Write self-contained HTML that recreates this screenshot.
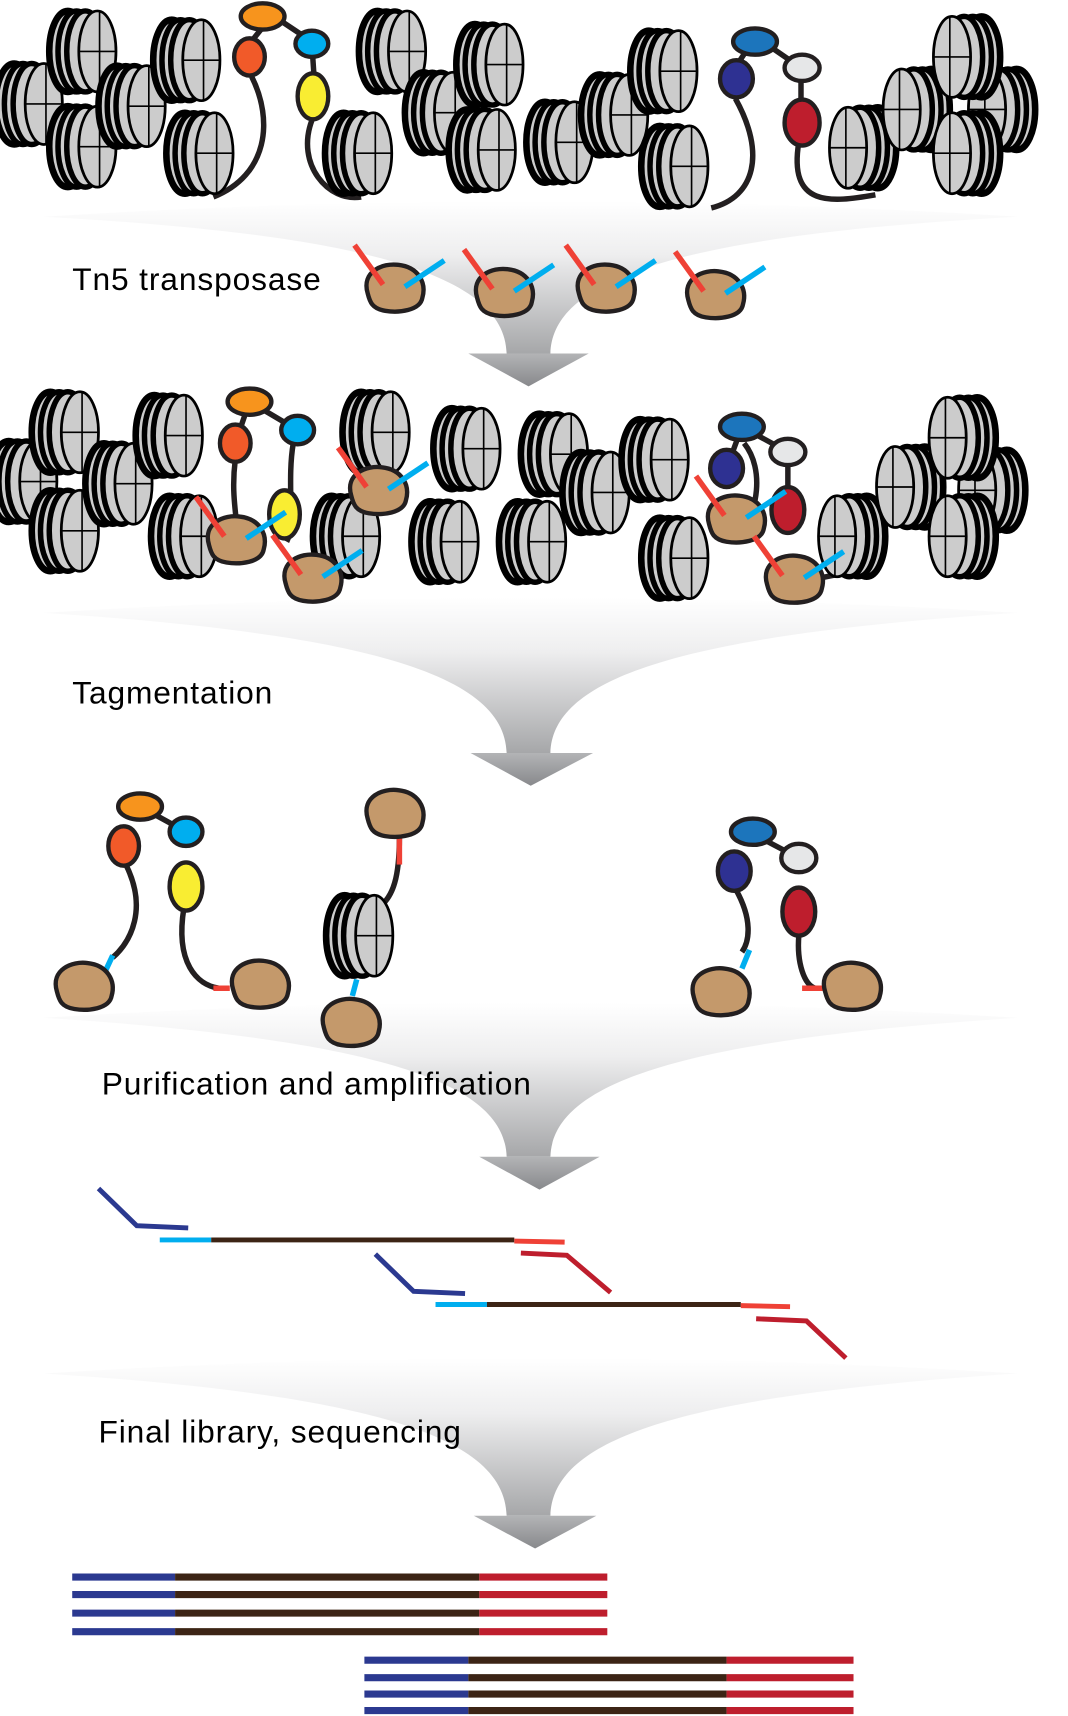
<!DOCTYPE html>
<html><head><meta charset="utf-8"><style>
html,body{margin:0;padding:0;background:#fff;}
svg{display:block;}
text{font-family:"Liberation Sans",sans-serif;font-size:29px;letter-spacing:0.8px;fill:#000;}
</style></head><body>
<svg width="1068" height="1716" viewBox="0 0 976 1568" preserveAspectRatio="none" xmlns="http://www.w3.org/2000/svg">
<defs>
<linearGradient id="fg" x1="0" y1="0" x2="0" y2="1">
<stop offset="0" stop-color="#fff"/><stop offset="0.35" stop-color="#eeeeef"/><stop offset="1" stop-color="#a6a7a9"/></linearGradient>
<linearGradient id="ag" x1="0" y1="0" x2="0" y2="1">
<stop offset="0" stop-color="#b3b4b6"/><stop offset="1" stop-color="#88898c"/></linearGradient>
<g id="nL">
<ellipse cx="-27" cy="0" rx="17" ry="37" fill="#ccc" stroke="#000" stroke-width="6"/>
<ellipse cx="-19" cy="0" rx="17" ry="37" fill="#ccc" stroke="#000" stroke-width="5"/>
<ellipse cx="-11" cy="0" rx="17" ry="37" fill="#ccc" stroke="#000" stroke-width="5"/>
<ellipse cx="0" cy="0" rx="17" ry="37" fill="#ccc" stroke="#000" stroke-width="2.5"/>
<line x1="-17" y1="0" x2="17" y2="0" stroke="#000" stroke-width="1.5"/>
<line x1="2" y1="-37" x2="2" y2="37" stroke="#000" stroke-width="1.5"/>
</g>
<g id="nR"><use href="#nL" transform="scale(-1,1)"/></g>
<g id="tn"><path d="M-24,6 C-30,-14 -10,-22 4,-20 C22,-18 30,-4 26,10 C24,22 4,24 -8,22 C-20,20 -22,14 -24,6 Z" fill="#c4996b" stroke="#231f20" stroke-width="4"/></g>
<g id="tnx"><use href="#tn"/><line x1="-36" y1="-38" x2="-10" y2="-2" stroke="#ef4136" stroke-width="5"/><line x1="10" y1="0" x2="46" y2="-24" stroke="#00aeef" stroke-width="5"/></g>
</defs>

<g>
<path d="M40,198 Q483,170 930,198 C620,215 505,255 503,323 L463,323 C461,255 350,215 40,198 Z" fill="url(#fg)"/>
<path d="M428,323 L538,323 L483,353 Z" fill="url(#ag)"/>
<path d="M40,560 Q483,532 930,560 C620,580 505,620 503,688 L463,688 C461,620 350,580 40,560 Z" fill="url(#fg)"/>
<path d="M430,688 L542,688 L485,718 Z" fill="url(#ag)"/>
<path d="M40,930 Q483,902 930,930 C620,950 505,990 503,1057 L463,1057 C461,990 350,950 40,930 Z" fill="url(#fg)"/>
<path d="M438,1057 L548,1057 L493,1087 Z" fill="url(#ag)"/>
<path d="M40,1255 Q483,1227 930,1255 C620,1275 505,1315 503,1385 L463,1385 C461,1315 350,1275 40,1255 Z" fill="url(#fg)"/>
<path d="M433,1385 L545,1385 L489,1415 Z" fill="url(#ag)"/>
</g>

<text x="66" y="265">Tn5 transposase</text>
<text x="66" y="643">Tagmentation</text>
<text x="93" y="1000">Purification and amplification</text>
<text x="90" y="1318">Final library, sequencing</text>

<g fill="none" stroke="#231f20" stroke-width="5">
<path d="M230,70 C250,110 245,160 195,180"/>
<path d="M285,110 C270,150 300,185 330,180"/>
<path d="M672,90 C700,140 690,180 650,190"/>
<path d="M730,130 C720,190 760,185 800,178"/>
<path d="M255,18 L285,38 M285,40 L287,70 M240,25 L228,40 M700,40 L732,62 M732,70 L732,100 M685,42 L673,60"/>
</g>
<use href="#nL" x="40" y="95"/>
<use href="#nL" x="89" y="47"/>
<use href="#nL" x="89" y="134"/>
<use href="#nL" x="134" y="97"/>
<use href="#nL" x="184" y="55"/>
<use href="#nL" x="196" y="140"/>
<use href="#nL" x="341" y="140"/>
<use href="#nL" x="372" y="47"/>
<use href="#nL" x="414" y="103"/>
<use href="#nL" x="461" y="59"/>
<use href="#nL" x="454" y="137"/>
<use href="#nL" x="525" y="130"/>
<use href="#nL" x="575" y="105"/>
<use href="#nL" x="620" y="65"/>
<use href="#nL" x="630" y="152"/>
<use href="#nR" x="775" y="135"/>
<use href="#nR" x="824" y="100"/>
<use href="#nR" x="902" y="100"/>
<use href="#nR" x="870" y="52"/>
<use href="#nR" x="870" y="140"/>
<g stroke="#231f20" stroke-width="4">
<ellipse cx="240" cy="15" rx="20" ry="12" fill="#f7941d"/>
<ellipse cx="228" cy="52" rx="14" ry="17" fill="#f15a29"/>
<ellipse cx="285" cy="40" rx="15" ry="12" fill="#00aeef"/>
<ellipse cx="286" cy="88" rx="14" ry="21" fill="#f9ed32"/>
<ellipse cx="690" cy="38" rx="20" ry="12" fill="#1c75bc"/>
<ellipse cx="673" cy="72" rx="15" ry="17" fill="#2e3192"/>
<ellipse cx="733" cy="62" rx="16" ry="12" fill="#e6e7e8"/>
<ellipse cx="733" cy="112" rx="16" ry="21" fill="#be1e2d"/>
</g>
<use href="#tnx" x="360" y="262"/>
<use href="#tnx" x="460" y="266"/>
<use href="#tnx" x="553" y="262"/>
<use href="#tnx" x="653" y="268"/>

<g fill="none" stroke="#231f20" stroke-width="5">
<path d="M215,420 C210,460 220,480 215,495 M268,405 C262,440 270,480 262,495 M680,405 C700,430 690,470 680,480"/>
<path d="M740,530 L790,520 M640,490 C640,520 625,540 605,545"/>
<path d="M228,367 L272,393 M228,367 L215,405 M678,390 L720,413 M678,390 L664,428 M720,413 L720,466"/>
</g>
<use href="#nL" x="35" y="440"/>
<use href="#nL" x="73" y="395"/>
<use href="#nL" x="73" y="485"/>
<use href="#nL" x="122" y="442"/>
<use href="#nL" x="168" y="398"/>
<use href="#nL" x="182" y="490"/>
<use href="#nL" x="330" y="490"/>
<use href="#nL" x="357" y="395"/>
<use href="#nL" x="420" y="495"/>
<use href="#nL" x="440" y="410"/>
<use href="#nL" x="500" y="495"/>
<use href="#nL" x="520" y="415"/>
<use href="#nL" x="558" y="450"/>
<use href="#nL" x="612" y="420"/>
<use href="#nL" x="630" y="510"/>
<use href="#nR" x="765" y="490"/>
<use href="#nR" x="818" y="445"/>
<use href="#nR" x="893" y="448"/>
<use href="#nR" x="866" y="400"/>
<use href="#nR" x="866" y="490"/>
<g stroke="#231f20" stroke-width="4">
<ellipse cx="228" cy="367" rx="20" ry="12" fill="#f7941d"/>
<ellipse cx="215" cy="405" rx="14" ry="17" fill="#f15a29"/>
<ellipse cx="272" cy="393" rx="15" ry="13" fill="#00aeef"/>
<ellipse cx="260" cy="470" rx="14" ry="22" fill="#f9ed32"/>
<ellipse cx="678" cy="390" rx="20" ry="12" fill="#1c75bc"/>
<ellipse cx="664" cy="428" rx="15" ry="17" fill="#2e3192"/>
<ellipse cx="720" cy="413" rx="16" ry="12" fill="#e6e7e8"/>
<ellipse cx="720" cy="466" rx="15" ry="21" fill="#be1e2d"/>
</g>
<use href="#tnx" x="215" y="492"/>
<use href="#tnx" x="285" y="527"/>
<use href="#tnx" x="345" y="447"/>
<use href="#tnx" x="672" y="473"/>
<use href="#tnx" x="725" y="528"/>

<g fill="none" stroke="#231f20" stroke-width="5">
<path d="M115,790 C135,830 120,860 103,875"/>
<path d="M168,830 C160,880 180,900 200,903"/>
<path d="M365,765 C365,800 360,820 345,830"/>
<path d="M672,812 C688,840 685,860 678,870"/>
<path d="M730,855 C728,880 735,900 745,903"/>
<path d="M128,737 L170,760 M688,762 L730,784"/>
</g>
<line x1="103" y1="873" x2="96" y2="888" stroke="#00aeef" stroke-width="5"/>
<line x1="195" y1="903" x2="210" y2="903" stroke="#ef4136" stroke-width="5"/>
<line x1="365" y1="765" x2="365" y2="790" stroke="#ef4136" stroke-width="5"/>
<line x1="326" y1="895" x2="322" y2="910" stroke="#00aeef" stroke-width="5"/>
<line x1="685" y1="868" x2="678" y2="885" stroke="#00aeef" stroke-width="5"/>
<line x1="733" y1="903" x2="752" y2="903" stroke="#ef4136" stroke-width="5"/>
<use href="#nL" x="342" y="855"/>
<g stroke="#231f20" stroke-width="4">
<ellipse cx="128" cy="737" rx="20" ry="12" fill="#f7941d"/>
<ellipse cx="113" cy="773" rx="14" ry="18" fill="#f15a29"/>
<ellipse cx="170" cy="760" rx="15" ry="13" fill="#00aeef"/>
<ellipse cx="170" cy="810" rx="15" ry="22" fill="#f9ed32"/>
<ellipse cx="688" cy="760" rx="20" ry="12" fill="#1c75bc"/>
<ellipse cx="671" cy="796" rx="15" ry="18" fill="#2e3192"/>
<ellipse cx="730" cy="784" rx="16" ry="13" fill="#e6e7e8"/>
<ellipse cx="730" cy="833" rx="15" ry="22" fill="#be1e2d"/>
</g>
<use href="#tn" x="76" y="900"/>
<use href="#tn" x="237" y="898"/>
<use href="#tn" x="360" y="742"/>
<use href="#tn" x="320" y="933"/>
<use href="#tn" x="658" y="905"/>
<use href="#tn" x="778" y="900"/>

<g fill="none" stroke-width="4.5">
<polyline points="90,1086 125,1120 172,1122" stroke="#2b3990"/>
<line x1="146" y1="1133" x2="193" y2="1133" stroke="#00aeef"/>
<line x1="193" y1="1133" x2="470" y2="1133" stroke="#3c2415"/>
<line x1="470" y1="1134" x2="516" y2="1135" stroke="#ef4136"/>
<polyline points="476,1145 518,1147 558,1181" stroke="#be1e2d"/>
<polyline points="343,1146 378,1180 425,1182" stroke="#2b3990"/>
<line x1="398" y1="1192" x2="445" y2="1192" stroke="#00aeef"/>
<line x1="445" y1="1192" x2="677" y2="1192" stroke="#3c2415"/>
<line x1="677" y1="1193" x2="722" y2="1194" stroke="#ef4136"/>
<polyline points="691,1205 737,1207 773,1241" stroke="#be1e2d"/>
</g>
<g stroke-width="6.5">
<g id="rg1">
<line x1="66" y1="1441" x2="160" y2="1441" stroke="#2b3990"/><line x1="160" y1="1441" x2="438" y2="1441" stroke="#3c2415"/><line x1="438" y1="1441" x2="555" y2="1441" stroke="#be1e2d"/>
</g>
<use href="#rg1" y="16"/><use href="#rg1" y="33"/><use href="#rg1" y="50"/>
<g id="rg2">
<line x1="333" y1="1517" x2="428" y2="1517" stroke="#2b3990"/><line x1="428" y1="1517" x2="664" y2="1517" stroke="#3c2415"/><line x1="664" y1="1517" x2="780" y2="1517" stroke="#be1e2d"/>
</g>
<use href="#rg2" y="16"/><use href="#rg2" y="31"/><use href="#rg2" y="46"/>
</g>
</svg>
</body></html>
